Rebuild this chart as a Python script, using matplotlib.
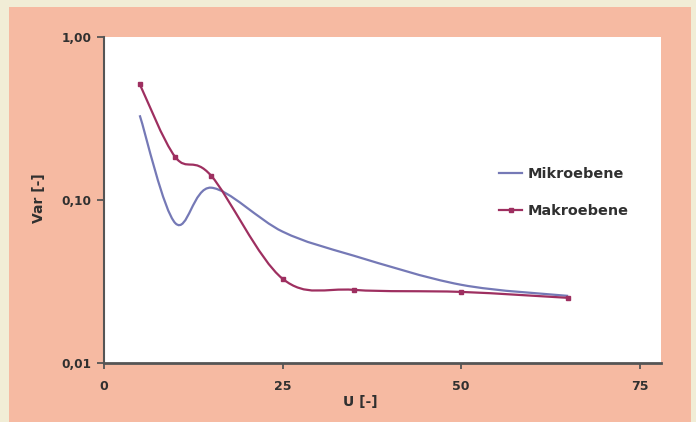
import numpy as np
import matplotlib
matplotlib.use("Agg")
import matplotlib.pyplot as plt
from matplotlib.path import Path
from matplotlib.patches import PathPatch, Rectangle
from matplotlib.lines import Line2D

# values
u_values = [5, 10, 15, 25, 35, 50, 65]
var_mikro = [0.331, 0.072, 0.119, 0.064, 0.0455, 0.0302, 0.0258]
var_makro = [0.514, 0.183, 0.141, 0.0329, 0.0281, 0.0273, 0.0251]
series_names = ["Mikroebene", "Makroebene"]
x_ticks = [0, 25, 50, 75]
y_ticks = [0.01, 0.1, 1.0]
y_tick_labels = ["0,01", "0,10", "1,00"]

col_mikro = "#7579B6"
col_makro = "#9E2F60"
col_axis = "#555555"
col_text = "#303030"


def smooth_path(xs, ys):
    # Excel-like smoothed line: cubic bezier through the points (in x / log y space)
    px = np.asarray(xs, float)
    py = np.log10(np.asarray(ys, float))
    n = len(px)
    verts = [(px[0], ys[0])]
    codes = [Path.MOVETO]
    for i in range(n - 1):
        i0 = max(i - 1, 0)
        i3 = min(i + 2, n - 1)
        c1x = px[i] + (px[i + 1] - px[i0]) / 6
        c1y = py[i] + (py[i + 1] - py[i0]) / 6
        c2x = px[i + 1] - (px[i3] - px[i]) / 6
        c2y = py[i + 1] - (py[i3] - py[i]) / 6
        verts += [(c1x, 10 ** c1y), (c2x, 10 ** c2y), (px[i + 1], 10 ** py[i + 1])]
        codes += [Path.CURVE4] * 3
    return Path(verts, codes)


fig = plt.figure(figsize=(6.96, 4.22), dpi=100)
fig.patch.set_facecolor("#F1EDD6")
fig.add_artist(Rectangle((9 / 696, 0), 682 / 696, 415 / 422,
                         transform=fig.transFigure, facecolor="#F6BAA2",
                         edgecolor="none", zorder=-5))

ax = fig.add_axes([104 / 696, 1 - 363 / 422, 557 / 696, 326 / 422])
ax.set_zorder(1)
ax.set_facecolor("white")
ax.set_yscale("log")
ax.set_xlim(0, 78)
ax.set_ylim(0.01, 1.0)

for xs, ys, c, mk in [(u_values, var_mikro, col_mikro, False),
                      (u_values, var_makro, col_makro, True)]:
    ax.add_patch(PathPatch(smooth_path(xs, ys), facecolor="none",
                           edgecolor=c, lw=1.6, zorder=3))
    if mk:
        ax.plot(xs, ys, linestyle="none", marker="s", markersize=3,
                color=c, zorder=4)

ax.set_xticks(x_ticks)
ax.set_xticklabels([str(v) for v in x_ticks])
ax.set_yticks(y_ticks)
ax.set_yticklabels(y_tick_labels)
ax.yaxis.set_minor_locator(matplotlib.ticker.NullLocator())

for s in ["top", "right"]:
    ax.spines[s].set_visible(False)
ax.spines["left"].set_color(col_axis)
ax.spines["left"].set_linewidth(1.5)
ax.spines["bottom"].set_color(col_axis)
ax.spines["bottom"].set_linewidth(2.0)

ax.tick_params(axis="y", direction="out", length=5, width=1.3, color=col_axis,
               pad=4, labelsize=8.7, labelcolor=col_text)
ax.tick_params(axis="x", direction="out", length=4, width=1.3, color=col_axis,
               pad=8, labelsize=9, labelcolor=col_text)
for lab in ax.get_xticklabels() + ax.get_yticklabels():
    lab.set_fontweight("bold")

ax.set_xlabel("U [-]", fontsize=10, fontweight="bold", color=col_text)
ax.set_ylabel("Var [-]", fontsize=10, fontweight="bold", color=col_text)
ax.xaxis.set_label_coords((360 - 104) / 557, (363 - 402) / 326)
ax.yaxis.set_label_coords((39 - 104) / 557, (363 - 198) / 326)
ax.xaxis.label.set_va("center")
ax.yaxis.label.set_va("center")

handles = [Line2D([], [], color=col_mikro, lw=1.6),
           Line2D([], [], color=col_makro, lw=1.6, marker="s", markersize=3)]
ax.legend(handles, series_names, loc="upper left",
          bbox_to_anchor=((486 - 104) / 557, (363 - 154) / 326),
          frameon=False, handlelength=1.6, handletextpad=0.4,
          labelspacing=1.6, prop={"size": 10.4, "weight": "bold"},
          labelcolor=col_text)

fig.savefig("out.png", dpi=100, facecolor=fig.get_facecolor())
